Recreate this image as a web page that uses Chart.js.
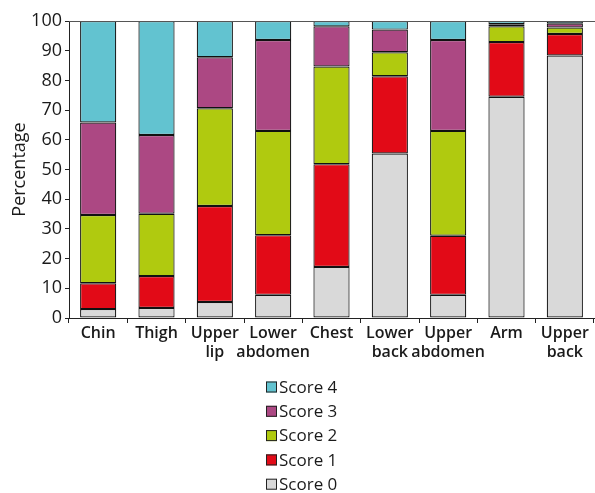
<!DOCTYPE html>
<html>
<head>
<meta charset="utf-8">
<script src="https://cdn.jsdelivr.net/npm/chart.js@4"></script>
<style>
html,body{margin:0;padding:0;background:#fff;}
#wrap{width:595px;height:493px;position:relative;}
</style>
</head>
<body>
<div id="wrap"><canvas id="c" width="595" height="493"></canvas></div>
<script>
const categories = [['Chin'], ['Thigh'], ['Upper', 'lip'], ['Lower', 'abdomen'], ['Chest'], ['Lower', 'back'], ['Upper', 'abdomen'], ['Arm'], ['Upper', 'back']];
const seriesNames = ['Score 0', 'Score 1', 'Score 2', 'Score 3', 'Score 4'];
const score0 = [3.0, 3.4, 5.4, 7.8, 17.2, 55.4, 7.8, 74.5, 88.4];
const score1 = [8.7, 10.7, 32.3, 20.1, 34.6, 26.0, 19.9, 18.4, 7.2];
const score2 = [23.0, 21.0, 32.9, 35.1, 32.9, 8.1, 35.3, 5.3, 2.2];
const score3 = [31.1, 26.5, 17.2, 30.6, 13.5, 7.6, 30.6, 0.7, 1.3];
const score4 = [34.2, 38.4, 12.2, 6.4, 1.8, 2.9, 6.4, 1.1, 0.9];
const yTicks = [0, 10, 20, 30, 40, 50, 60, 70, 80, 90, 100];
const colors = ['#D9D9D9', '#E20A17', '#B0CA0F', '#AC4883', '#62C3D0'];

const FONT = "'Open Sans', 'Noto Sans', sans-serif";
const TXT = '#1a1a1a';

const frame = {
  id: 'frame',
  afterDatasetsDraw(chart) {
    const {ctx, chartArea: a} = chart;
    ctx.save();
    ctx.strokeStyle = '#555';
    ctx.lineWidth = 1;
    ctx.beginPath();
    ctx.moveTo(a.left, a.top + 0.5);
    ctx.lineTo(chart.width, a.top + 0.5);
    ctx.stroke();
    ctx.restore();
  }
};

const vLegend = {
  id: 'vLegend',
  afterDraw(chart) {
    const ctx = chart.ctx;
    const ds = chart.data.datasets;
    ctx.save();
    ctx.font = '17px ' + FONT;
    ctx.textBaseline = 'middle';
    ctx.textAlign = 'left';
    const x0 = 266, y0 = 387, step = 24.3, box = 11;
    for (let i = ds.length - 1, r = 0; i >= 0; i--, r++) {
      const y = y0 + r * step;
      ctx.fillStyle = ds[i].backgroundColor;
      ctx.fillRect(x0, y - box / 2, box, box);
      ctx.strokeStyle = '#222';
      ctx.lineWidth = 1;
      ctx.strokeRect(x0 + 0.5, y - box / 2 + 0.5, box - 1, box - 1);
      ctx.fillStyle = TXT;
      ctx.fillText(ds[i].label, x0 + box + 2, y + 1);
    }
    ctx.restore();
  }
};

const datasets = [score0, score1, score2, score3, score4].map((d, i) => ({
  label: seriesNames[i],
  data: d,
  backgroundColor: colors[i],
  borderColor: '#111',
  borderWidth: 1.2,
  borderSkipped: false,
  barPercentage: 0.62,
  categoryPercentage: 1.0
}));

new Chart(document.getElementById('c'), {
  type: 'bar',
  data: { labels: categories, datasets },
  options: {
    responsive: false,
    animation: false,
    devicePixelRatio: 1,
    layout: { padding: { top: 21, right: 1, left: 0, bottom: 0 } },
    plugins: { legend: { display: false }, tooltip: { enabled: false } },
    scales: {
      x: {
        stacked: true,
        grid: { display: true, offset: true, drawOnChartArea: false, drawTicks: true, tickLength: 5, color: '#222' },
        border: { display: true, color: '#222', width: 1 },
        ticks: { color: TXT, font: { family: FONT, size: 16, weight: '600', lineHeight: 1.2 }, padding: 1, maxRotation: 0, autoSkip: false },
        afterFit(s) { s.height = 175; }
      },
      y: {
        stacked: true,
        min: 0, max: 100,
        afterBuildTicks(s) { s.ticks = yTicks.map(v => ({ value: v })); },
        grid: { display: true, drawOnChartArea: false, drawTicks: true, tickLength: 4, color: '#222' },
        border: { display: true, color: '#222', width: 1 },
        ticks: { color: TXT, font: { family: FONT, size: 18 }, padding: 3 },
        title: { display: true, text: 'Percentage', color: TXT, font: { family: FONT, size: 18, weight: '500' }, padding: { top: 9, bottom: 0 } },
        afterFit(s) { s.width = 69; }
      }
    }
  },
  plugins: [frame, vLegend]
});
</script>
</body>
</html>
